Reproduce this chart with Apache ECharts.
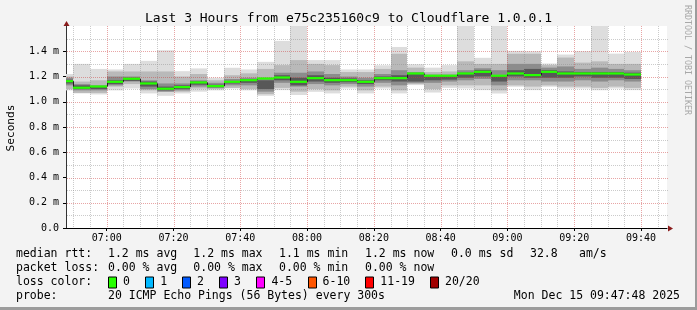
<!DOCTYPE html>
<html><head><meta charset="utf-8">
<script src="https://cdn.jsdelivr.net/npm/echarts@6/dist/echarts.min.js"></script>
<style>
html,body{margin:0;padding:0;background:#f3f3f3;}
#wrap{position:relative;width:697px;height:310px;overflow:hidden;}
#c{position:absolute;left:0;top:0;width:697px;height:310px;}
#frame{position:absolute;left:0;top:0;width:697px;height:310px;box-sizing:border-box;border-right:2px solid #9c9c9c;border-bottom:3px solid #9c9c9c;pointer-events:none;}
</style></head><body>
<div id="wrap"><div id="c"></div><div id="frame"></div></div>
<script>
// ---------------- data ----------------
const chartTitle = 'Last 3 Hours from e75c235160c9 to Cloudflare 1.0.0.1';
const axisName = 'Seconds';
const windowStart = '06:47:48';
const windowEnd = '09:47:48';
const stepMinutes = 5;
// end time of each 5-minute sample (20 pings each)
const barEnd = ['06:50','06:55','07:00','07:05','07:10','07:15','07:20','07:25','07:30','07:35',
  '07:40','07:45','07:50','07:55','08:00','08:05','08:10','08:15','08:20','08:25',
  '08:30','08:35','08:40','08:45','08:50','08:55','09:00','09:05','09:10','09:15',
  '09:20','09:25','09:30','09:35','09:40'];
// smoke: outermost (min..max) ping range, in ms
const smokeMin = [1.09,1.066,1.058,1.09,1.105,1.066,1.047,1.066,1.08,1.09,
  1.105,1.09,1.047,1.092,1.053,1.079,1.066,1.105,1.066,1.105,
  1.066,1.132,1.073,1.11,1.105,1.092,1.066,1.119,1.092,1.119,
  1.105,1.105,1.092,1.105,1.092];
const smokeMax = [1.22,1.30,1.26,1.256,1.30,1.324,1.408,1.242,1.264,1.19,
  1.269,1.256,1.316,1.482,1.62,1.33,1.33,1.256,1.256,1.289,
  1.434,1.297,1.27,1.29,1.62,1.348,1.62,1.403,1.40,1.303,
  1.374,1.40,1.62,1.381,1.395];
// second smoke layer
const band2Lo = [1.10,1.07,1.07,1.12,1.14,1.09,1.08,1.08,1.105,1.10,
  1.11,1.10,1.06,1.11,1.08,1.10,1.09,1.12,1.09,1.12,
  1.09,1.14,1.10,1.13,1.13,1.13,1.09,1.13,1.12,1.13,
  1.12,1.12,1.11,1.12,1.11];
const band2Hi = [1.20,1.16,1.17,1.24,1.24,1.24,1.24,1.20,1.22,1.17,
  1.21,1.225,1.26,1.29,1.33,1.30,1.29,1.235,1.235,1.26,
  1.38,1.27,1.235,1.24,1.32,1.30,1.30,1.38,1.38,1.29,
  1.35,1.31,1.32,1.30,1.30];
// third smoke layer
const band3Lo = [1.13,1.09,1.09,1.13,1.16,1.10,1.08,1.09,1.12,1.11,
  1.13,1.13,1.08,1.15,1.12,1.14,1.13,1.14,1.12,1.15,
  1.13,1.15,1.15,1.16,1.17,1.18,1.13,1.17,1.17,1.16,
  1.16,1.17,1.16,1.17,1.16];
const band3Hi = [1.19,1.14,1.13,1.20,1.20,1.17,1.145,1.145,1.17,1.15,
  1.18,1.19,1.19,1.23,1.23,1.24,1.22,1.20,1.19,1.22,
  1.25,1.235,1.215,1.215,1.25,1.265,1.25,1.30,1.30,1.27,
  1.28,1.26,1.27,1.26,1.25];
// innermost (darkest) smoke layer
const band4Lo = [1.145,1.10,1.10,1.14,1.165,1.12,1.09,1.10,1.135,1.115,
  1.145,1.15,1.10,1.17,1.13,1.16,1.15,1.155,1.14,1.17,
  1.16,1.16,1.17,1.175,1.19,1.20,1.16,1.20,1.19,1.19,
  1.19,1.20,1.19,1.19,1.18];
const band4Hi = [1.175,1.13,1.125,1.17,1.19,1.16,1.12,1.13,1.16,1.135,
  1.165,1.18,1.17,1.21,1.19,1.21,1.19,1.185,1.17,1.20,
  1.21,1.225,1.205,1.205,1.23,1.25,1.21,1.25,1.26,1.25,
  1.24,1.235,1.235,1.235,1.23];
// median rtt per sample (ms)
const medianRtt = [1.163,1.111,1.121,1.158,1.182,1.145,1.103,1.116,1.153,1.124,
  1.158,1.171,1.184,1.192,1.158,1.187,1.171,1.171,1.158,1.187,
  1.187,1.224,1.206,1.206,1.224,1.237,1.206,1.224,1.211,1.237,
  1.224,1.224,1.224,1.224,1.216];
const xTickLabels = ['07:00','07:20','07:40','08:00','08:20','08:40','09:00','09:20','09:40'];
const yTickValues = [0,0.2,0.4,0.6,0.8,1.0,1.2,1.4];
const yTickLabels = ['0.0','0.2 m','0.4 m','0.6 m','0.8 m','1.0 m','1.2 m','1.4 m'];
const lossLabels = ['0','1','2','3','4-5','6-10','11-19','20/20'];
const lossColors = ['#26ff00','#00b8ff','#0059ff','#7e00ff','#ff00ff','#ff5500','#ff0000','#a10000'];
const statsRtt = ['1.2 ms avg','1.2 ms max','1.1 ms min','1.2 ms now','0.0 ms sd','32.8','am/s'];
const statsLoss = ['0.00 % avg','0.00 % max','0.00 % min','0.00 % now'];
const probeText = '20 ICMP Echo Pings (56 Bytes) every 300s';
const stampText = 'Mon Dec 15 09:47:48 2025';
const watermark = 'RRDTOOL / TOBI OETIKER';

// ---------------- helpers ----------------
function toMin(s){ const p=s.split(':').map(Number); return p[0]*60+p[1]+(p[2]||0)/60; }
function fmt(m){ const h=Math.floor(m/60), mm=Math.round(m-h*60); return String(h).padStart(2,'0')+':'+String(mm).padStart(2,'0'); }
const xMin = toMin(windowStart), xMax = toMin(windowEnd);
const xTickValues = xTickLabels.map(toMin);
const MONO = 'DejaVu Sans Mono';

const smokeData = barEnd.map((t,i)=>{
  const e = toMin(t);
  return [e-stepMinutes, e, smokeMin[i], smokeMax[i], band2Lo[i], band2Hi[i], band3Lo[i], band3Hi[i], band4Lo[i], band4Hi[i], medianRtt[i]];
});
const medianData = barEnd.map((t,i)=>{ const e = toMin(t); return [e-stepMinutes, e, medianRtt[i]]; });

const layerDefs = [[2,3,'#dddddd'],[4,5,'#b9b9b9'],[6,7,'#8c8c8c'],[8,9,'#585858']];
function renderSmoke(params, api){
  const s = api.value(0), e = api.value(1);
  const x0 = Math.round(api.coord([s,0])[0]), x1 = Math.round(api.coord([e,0])[0]);
  const ch = [];
  for (const [a,b,c] of layerDefs){
    const yt = api.coord([s, api.value(b)])[1], yb = api.coord([s, api.value(a)])[1];
    ch.push({type:'rect', shape:{x:x0, y:yt, width:x1-x0, height:yb-yt}, style:{fill:c}});
  }
  return {type:'group', children:ch};
}
function renderMedian(params, api){
  const s = api.value(0), e = api.value(1);
  const x0 = Math.round(api.coord([s,0])[0]), x1 = Math.round(api.coord([e,0])[0]);
  const ym = api.coord([s, api.value(2)])[1];
  const ch = [];
  if (params.dataIndex > 0){
    const yp = api.coord([s, medianRtt[params.dataIndex-1]])[1];
    ch.push({type:'line', shape:{x1:x0+0.5, y1:yp, x2:x0+0.5, y2:ym}, style:{stroke:'#202020', lineWidth:1}});
  }
  ch.push({type:'rect', shape:{x:x0, y:ym-1.1, width:x1-x0, height:2.2}, style:{fill:lossColors[0]}});
  return {type:'group', children:ch};
}

// grid lines (rrdtool style, dotted, translucent)
const minorC = 'rgba(140,140,140,0.45)', majorC = 'rgba(205,55,55,0.45)';
const gridData = [];
for (let k=1;k<=15;k++) gridData.push([0, k/10, (k%2)?0:1]);
for (let m=toMin('06:50'); m<xMax; m+=stepMinutes) gridData.push([1, m, (m%20===0)?1:0]);
function renderGrid(params, api){
  const cs = params.coordSys;
  const kind = api.value(0), v = api.value(1), major = api.value(2);
  const st = {stroke: major?majorC:minorC, lineWidth:1, lineDash:[1,1]};
  if (kind===0){
    const y = Math.round(api.coord([xMin, v])[1]) + 0.5;
    return {type:'line', shape:{x1:cs.x+1, y1:y, x2:cs.x+cs.width+2, y2:y}, style:st, silent:true};
  }
  const x = Math.round(api.coord([v, 0])[0]) + 0.5;
  return {type:'line', shape:{x1:x, y1:cs.y, x2:x, y2:cs.y+cs.height}, style:st, silent:true};
}

const gLeft=66, gRight=30, gTop=26, gBottom=82;
const W=697, H=310;

// legend graphics
const gfx = [];
const txt = (x,y,t)=>gfx.push({type:'text', x:x, y:y, silent:true,
  style:{text:t, fontFamily:MONO, fontSize:11.5, fill:'#000', textVerticalAlign:'middle', textAlign:'left'}});
gfx.push({type:'text', x:W/2, y:19, style:{text:chartTitle, fontFamily:MONO, fontSize:13, fill:'#000', textAlign:'center', textVerticalAlign:'middle'}});
gfx.push({type:'text', x:11, y:128, rotation:Math.PI/2, style:{text:axisName, fontFamily:MONO, fontSize:11.2, fill:'#000', textAlign:'center', textVerticalAlign:'middle'}});
gfx.push({type:'text', x:687, y:60, rotation:-Math.PI/2, style:{text:watermark, fontFamily:MONO, fontSize:8.3, fill:'#a8a8a8', textAlign:'center', textVerticalAlign:'middle'}});
const row1 = 254.5, row2 = 268.5, row3 = 282.5, row4 = 296.5;
txt(16, row1, 'median rtt:');
[108,193.3,279,365,451,530,579].forEach((x,i)=>txt(x,row1,statsRtt[i]));
txt(16, row2, 'packet loss:');
[108,193.3,279,365].forEach((x,i)=>txt(x,row2,statsLoss[i]));
txt(16, row3, 'loss color:');
const boxX = [108,145.3,182,219,256.4,307.6,365.3,430];
lossLabels.forEach((l,i)=>{
  gfx.push({type:'rect', shape:{x:Math.round(boxX[i])+0.5, y:row3-5.5, width:8, height:11}, style:{fill:lossColors[i], stroke:'#000', lineWidth:1}});
  txt(boxX[i]+15, row3, l);
});
txt(16, row4, 'probe:');
txt(108, row4, probeText);
gfx.push({type:'text', x:680, y:row4, style:{text:stampText, fontFamily:MONO, fontSize:11.5, fill:'#000', textAlign:'right', textVerticalAlign:'middle'}});
// axis arrows
const arrowC = '#8b1c1c';
gfx.push({type:'polygon', shape:{points:[[gLeft+0.5-3,gTop],[gLeft+0.5+3,gTop],[gLeft+0.5,gTop-5]]}, style:{fill:arrowC}});
const xr = W-gRight, yb = H-gBottom+0.5;
gfx.push({type:'polygon', shape:{points:[[xr+1,yb-3],[xr+1,yb+3],[xr+6,yb]]}, style:{fill:arrowC}});

const chart = echarts.init(document.getElementById('c'), null, {renderer:'canvas'});
chart.setOption({
  animation:false,
  backgroundColor:'transparent',
  grid:{left:gLeft, right:gRight, top:gTop, bottom:gBottom, show:true, backgroundColor:'#ffffff', borderWidth:0},
  xAxis:{type:'value', min:xMin, max:xMax, splitLine:{show:false},
    axisLine:{show:true, onZero:false, lineStyle:{color:'#000', width:1}},
    axisTick:{show:true, customValues:xTickValues, length:3, lineStyle:{color:'#000'}},
    axisLabel:{customValues:xTickValues, formatter:v=>fmt(v), fontFamily:MONO, fontSize:10, color:'#000', margin:5}},
  yAxis:{type:'value', min:0, max:1.6, interval:0.2, splitLine:{show:false},
    axisLine:{show:true, lineStyle:{color:'#333', width:1}},
    axisTick:{show:true, customValues:yTickValues, length:3, lineStyle:{color:'#000'}},
    axisLabel:{customValues:yTickValues, formatter:v=>{const i=yTickValues.findIndex(t=>Math.abs(t-v)<1e-6); return i>=0?yTickLabels[i]:'';}, fontFamily:MONO, fontSize:10, color:'#000', margin:7}},
  series:[
    {type:'custom', clip:true, renderItem:renderSmoke, data:smokeData, z:2, encode:{x:[0,1], y:[2,3]}},
    {type:'custom', renderItem:renderGrid, data:gridData, z:3, silent:true, encode:{x:-1, y:-1}},
    {type:'custom', clip:true, renderItem:renderMedian, data:medianData, z:4, encode:{x:[0,1], y:2}}
  ],
  graphic:gfx
});
</script>
</body></html>
